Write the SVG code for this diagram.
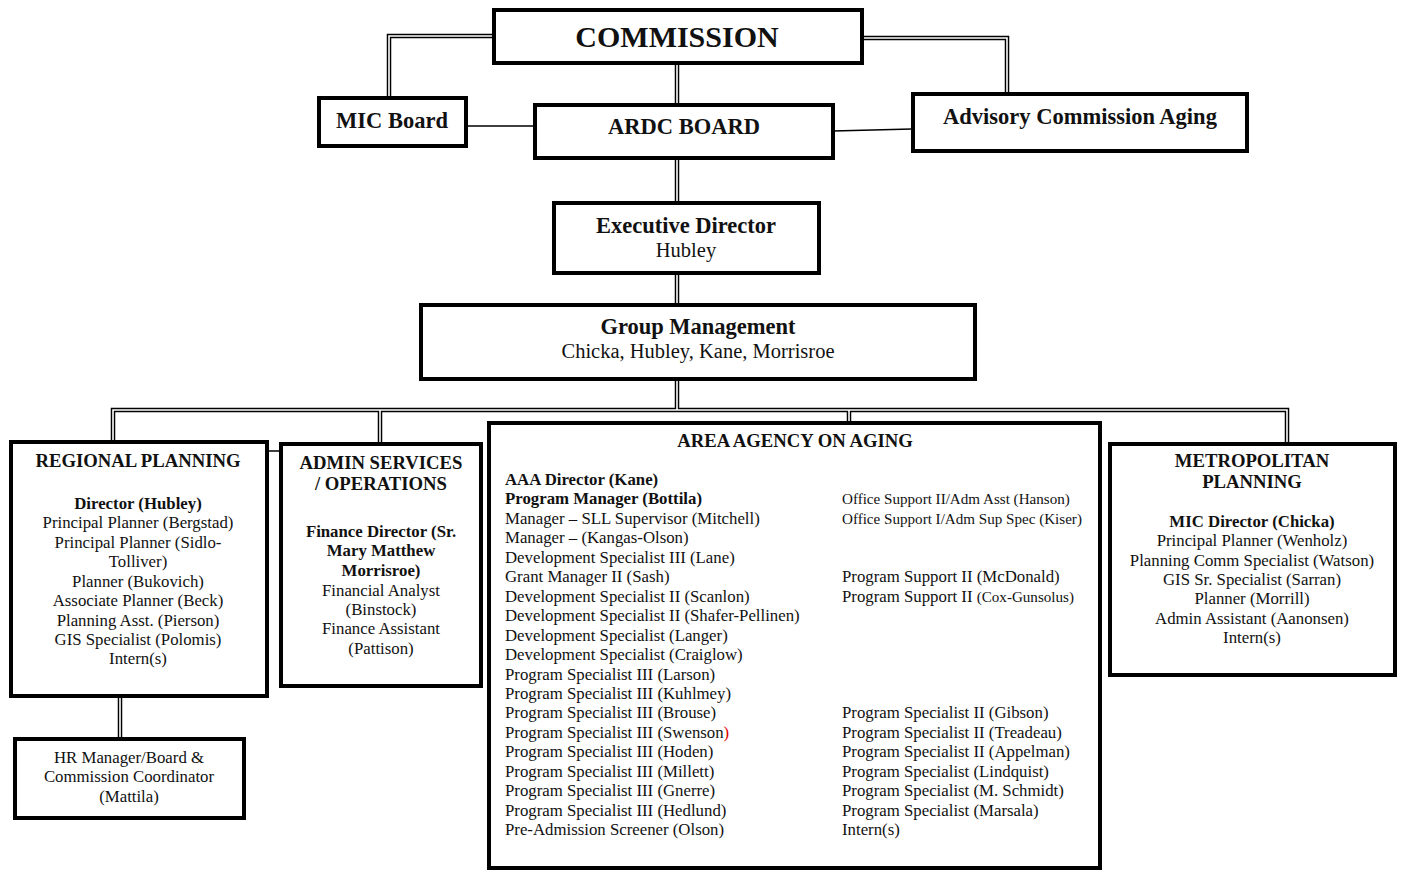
<svg xmlns="http://www.w3.org/2000/svg" width="1401" height="870" viewBox="0 0 1401 870">
<style>
.box{fill:#fff;stroke:#000;stroke-width:4}
.t{font-family:"Liberation Serif","Times New Roman",serif;fill:#111}
.b{font-weight:bold}
.c{text-anchor:middle}
.dbo{fill:none;stroke:#000;stroke-width:4.5}
.dbi{fill:none;stroke:#fff;stroke-width:1.6}
.sl{fill:none;stroke:#000;stroke-width:1.3}
.f16{font-size:16.8px}
.f17{font-size:18.7px}
.f14{font-size:15.1px}
.h{font-size:22.5px}
.s{font-size:20.5px}
</style>
<rect width="1401" height="870" fill="#fff"/>
<g id="connectors">
<path class="dbo" d="M493,36 H389 V97 M862,38 H1007 V93 M677,63 V104 M677,158 V202 M677,273 V304 M677,379 V410 M113,441 V410 H1287 V443 M380,410 V443 M849,410 V440 M120,696 V738"/>
<path class="dbi" d="M493,36 H389 V97 M862,38 H1007 V93 M677,63 V104 M677,158 V202 M677,273 V304 M677,379 V410 M113,441 V410 H1287 V443 M380,410 V443 M849,410 V440 M120,696 V738"/>
<path class="sl" d="M466,126 H534 M833,131 L912,129 M267,451 H280"/>
</g>
<g id="commission">
<rect class="box" x="494" y="10" width="368" height="53"/>
<text class="t b c" x="677" y="47" font-size="30">COMMISSION</text>
</g>
<g id="mic-board">
<rect class="box" x="319" y="98" width="147" height="48"/>
<text class="t b c h" x="392" y="128">MIC Board</text>
</g>
<g id="ardc-board">
<rect class="box" x="535" y="105" width="298" height="53"/>
<text class="t b c h" x="684" y="134">ARDC BOARD</text>
</g>
<g id="advisory">
<rect class="box" x="913" y="94" width="334" height="57"/>
<text class="t b c h" x="1080" y="124">Advisory Commission Aging</text>
</g>
<g id="exec-director">
<rect class="box" x="554" y="203" width="265" height="70"/>
<text class="t b c h" x="686" y="233">Executive Director</text>
<text class="t c s" x="686" y="257">Hubley</text>
</g>
<g id="group-management">
<rect class="box" x="421" y="305" width="554" height="74"/>
<text class="t b c h" x="698" y="334">Group Management</text>
<text class="t c s" x="698" y="358">Chicka, Hubley, Kane, Morrisroe</text>
</g>
<g id="regional-planning">
<rect class="box" x="11" y="442" width="256" height="254"/>
<text class="t b c f17" x="138" y="467">REGIONAL PLANNING</text>
<text class="t b c f16" x="138" y="509">Director (Hubley)</text>
<text class="t c f16" x="138" y="528">Principal Planner (Bergstad)</text>
<text class="t c f16" x="138" y="548">Principal Planner (Sidlo-</text>
<text class="t c f16" x="138" y="567">Tolliver)</text>
<text class="t c f16" x="138" y="587">Planner (Bukovich)</text>
<text class="t c f16" x="138" y="606">Associate Planner (Beck)</text>
<text class="t c f16" x="138" y="626">Planning Asst. (Pierson)</text>
<text class="t c f16" x="138" y="645">GIS Specialist (Polomis)</text>
<text class="t c f16" x="138" y="664">Intern(s)</text>
</g>
<g id="hr-manager">
<rect class="box" x="15" y="739" width="229" height="79"/>
<text class="t c f16" x="129" y="763">HR Manager/Board &amp;</text>
<text class="t c f16" x="129" y="782">Commission Coordinator</text>
<text class="t c f16" x="129" y="802">(Mattila)</text>
</g>
<g id="admin-services">
<rect class="box" x="281" y="444" width="200" height="242"/>
<text class="t b c f17" x="381" y="469">ADMIN SERVICES</text>
<text class="t b c f17" x="381" y="490">/ OPERATIONS</text>
<text class="t b c f16" x="381" y="537">Finance Director (Sr.</text>
<text class="t b c f16" x="381" y="556">Mary Matthew</text>
<text class="t b c f16" x="381" y="576">Morrisroe)</text>
<text class="t c f16" x="381" y="596">Financial Analyst</text>
<text class="t c f16" x="381" y="615">(Binstock)</text>
<text class="t c f16" x="381" y="634">Finance Assistant</text>
<text class="t c f16" x="381" y="654">(Pattison)</text>
</g>
<g id="area-agency-aging">
<rect class="box" x="489" y="423" width="611" height="445" stroke-width="3.5"/>
<text class="t b c f17" x="795" y="447">AREA AGENCY ON AGING</text>
<g class="t f16">
<text class="b" x="505" y="485">AAA Director (Kane)</text>
<text class="b" x="505" y="504">Program Manager (Bottila)</text>
<text x="505" y="524">Manager – SLL Supervisor (Mitchell)</text>
<text x="505" y="543">Manager – (Kangas-Olson)</text>
<text x="505" y="563">Development Specialist III (Lane)</text>
<text x="505" y="582">Grant Manager II (Sash)</text>
<text x="505" y="602">Development Specialist II (Scanlon)</text>
<text x="505" y="621">Development Specialist II (Shafer-Pellinen)</text>
<text x="505" y="641">Development Specialist (Langer)</text>
<text x="505" y="660">Development Specialist (Craiglow)</text>
<text x="505" y="680">Program Specialist III (Larson)</text>
<text x="505" y="699">Program Specialist III (Kuhlmey)</text>
<text x="505" y="718">Program Specialist III (Brouse)</text>
<text x="505" y="738">Program Specialist III (Swenson<tspan fill="#e00000">)</tspan></text>
<text x="505" y="757">Program Specialist III (Hoden)</text>
<text x="505" y="777">Program Specialist III (Millett)</text>
<text x="505" y="796">Program Specialist III (Gnerre)</text>
<text x="505" y="816">Program Specialist III (Hedlund)</text>
<text x="505" y="835">Pre-Admission Screener (Olson)</text>
<text class="f14" x="842" y="504">Office Support II/Adm Asst (Hanson)</text>
<text class="f14" x="842" y="524">Office Support I/Adm Sup Spec (Kiser)</text>
<text x="842" y="582">Program Support II (McDonald)</text>
<text x="842" y="602">Program Support II <tspan font-size="15.1">(Cox-Gunsolus)</tspan></text>
<text x="842" y="718">Program Specialist II (Gibson)</text>
<text x="842" y="738">Program Specialist II (Treadeau)</text>
<text x="842" y="757">Program Specialist II (Appelman)</text>
<text x="842" y="777">Program Specialist (Lindquist)</text>
<text x="842" y="796">Program Specialist (M. Schmidt)</text>
<text x="842" y="816">Program Specialist (Marsala)</text>
<text x="842" y="835">Intern(s)</text>
</g>
</g>
<g id="metropolitan-planning">
<rect class="box" x="1110" y="444" width="285" height="231"/>
<text class="t b c f17" x="1252" y="467">METROPOLITAN</text>
<text class="t b c f17" x="1252" y="488">PLANNING</text>
<text class="t b c f16" x="1252" y="527">MIC Director (Chicka)</text>
<text class="t c f16" x="1252" y="546">Principal Planner (Wenholz)</text>
<text class="t c f16" x="1252" y="566">Planning Comm Specialist (Watson)</text>
<text class="t c f16" x="1252" y="585">GIS Sr. Specialist (Sarran)</text>
<text class="t c f16" x="1252" y="604">Planner (Morrill)</text>
<text class="t c f16" x="1252" y="624">Admin Assistant (Aanonsen)</text>
<text class="t c f16" x="1252" y="643">Intern(s)</text>
</g>
</svg>
